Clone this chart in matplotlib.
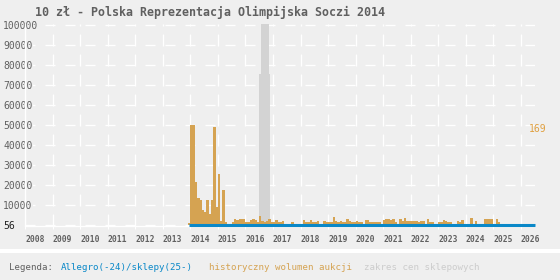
import numpy as np
import matplotlib
matplotlib.use("Agg")
import matplotlib.pyplot as plt
from matplotlib.patches import Rectangle
from matplotlib.transforms import ScaledTranslation

plt.rcParams['font.family'] = ['DejaVu Sans Mono']
plt.rcParams['lines.scale_dashes'] = False

title = "10 zł - Polska Reprezentacja Olimpijska Soczi 2014"

# monthly auction volume, first month = Dec 2013
vol_start = 2013 + 11 / 12
volume = [1000,
          50000, 50000, 21500, 13500, 12500, 7500, 6500, 12500, 5500, 12500, 49000, 9000,   # 2014
          25500, 2000, 17500, 1500, 500, 500, 1500, 3000, 2500, 3000, 3000, 3000,           # 2015
          1500, 1500, 2500, 3000, 2500, 1500, 4500, 2000, 1500, 2000, 3000, 1500,           # 2016
          1500, 2500, 1500, 1500, 2000, 500, 500, 500, 1500, 500, 500, 500,                 # 2017
          500, 2500, 1500, 1500, 2500, 1500, 1500, 2000, 500, 500, 2000, 1500,              # 2018
          1500, 1500, 4000, 2000, 1500, 2000, 1500, 1500, 3000, 2000, 1500, 1500,           # 2019
          2000, 1500, 1500, 500, 2500, 2500, 1500, 1500, 1500, 1500, 1500, 500,             # 2020
          2500, 3000, 3000, 2500, 3000, 1500, 500, 3000, 2000, 3500, 2000, 2000,            # 2021
          2000, 2000, 2000, 1500, 2000, 2000, 500, 3000, 1500, 1500, 500, 500,              # 2022
          1500, 1500, 2500, 2000, 1500, 1500, 500, 500, 2000, 1500, 2500, 500,              # 2023
          500, 500, 3500, 500, 2000, 500, 500, 500, 3000, 3000, 3000, 3000,                 # 2024
          500, 3000, 1500]                                                                 # 2025

# shop price range band (start, end, top)
shop_start = [2016.48, 2016.51, 2016.55]
shop_end = [2016.91, 2016.88, 2016.84]
shop_top = [25500, 75500, 101000]

# allegro price line
allegro_x = [2013.95, 2019.47, 2019.56, 2026.51]
allegro_y = [250, -150, 250, 250]

years = list(range(2008, 2027))
yticks = [56, 10000, 20000, 30000, 40000, 50000, 60000, 70000, 80000, 90000, 100000]
last_label = "169"

bg = '#efefef'
orange = '#d5a352'
blue = '#0a88c8'
grey = '#d3d3d3'
txt = '#606060'

fig = plt.figure(figsize=(5.6, 2.8), dpi=100, facecolor=bg)
ax = fig.add_axes([25 / 560, 54 / 280, 510 / 560, 202 / 280])
ax.set_facecolor(bg)

ax.bar(shop_start, shop_top, width=np.array(shop_end) - np.array(shop_start),
       align='edge', color=grey, linewidth=0, zorder=1)
months = vol_start + np.arange(len(volume)) / 12
ax.bar(months, volume, width=1 / 12, align='edge', color=orange, linewidth=0, zorder=2)
ax.plot(allegro_x, allegro_y, drawstyle='steps-post', color=blue, lw=2.2,
        solid_capstyle='butt', zorder=3, clip_on=False)

ax.set_xlim(2008, 2026.51)
ax.set_ylim(-500, 100500)

ax.set_xticks(years)
ax.set_xticklabels([str(y) for y in years], fontsize=5.8, fontweight='bold', color=txt, ha='left')
ax.set_yticks(yticks)
ax.set_yticklabels([str(v) for v in yticks], fontsize=7, color=txt, ha='left')
ax.get_yticklabels()[0].set_color('#222222')
off = ScaledTranslation(0, -3 / 100, fig.dpi_scale_trans)
for lab in ax.get_yticklabels():
    lab.set_transform(lab.get_transform() + off)
    lab.set_bbox(dict(facecolor=bg, edgecolor='none', pad=0.6))
    lab.set_zorder(5)

ax.tick_params(axis='y', length=0, pad=15.8)
ax.tick_params(axis='x', length=2.2, width=0.72, color='white', direction='out', pad=4)

for s in ['top', 'right']:
    ax.spines[s].set_visible(False)
for s in ['left', 'bottom']:
    ax.spines[s].set_color('white')
    ax.spines[s].set_linewidth(0.9)

ax.set_axisbelow(True)
ax.yaxis.grid(True, color='white', lw=0.9, linestyle=(0, (7.2, 7.2)))
ax.xaxis.grid(True, color='white', lw=0.9, linestyle=(0, (8.6, 5.8)))

ax.text(0.988, 0.48, last_label, transform=ax.transAxes, fontsize=7, color='#e0a040',
        ha='left', va='center')

fig.text(35 / 560, 1 - 12 / 280, title, fontsize=8.4, fontweight='bold', color=txt,
         ha='left', va='center')

# separator + legend
fig.patches.append(Rectangle((0, 27 / 280), 1, 4 / 280, transform=fig.transFigure,
                             facecolor='white', edgecolor='none'))
ly = 1 - 268 / 280
fig.text(9 / 560, ly, "Legenda:", fontsize=6.6, color=txt, va='center')
fig.text(61 / 560, ly, "Allegro(-24)/sklepy(25-)", fontsize=6.6, color=blue, va='center')
fig.text(209 / 560, ly, "historyczny wolumen aukcji", fontsize=6.6, color=orange, va='center')
fig.text(364 / 560, ly, "zakres cen sklepowych", fontsize=6.6, color='#cccccc', va='center')

fig.savefig("out.png", dpi=100, facecolor=bg)
